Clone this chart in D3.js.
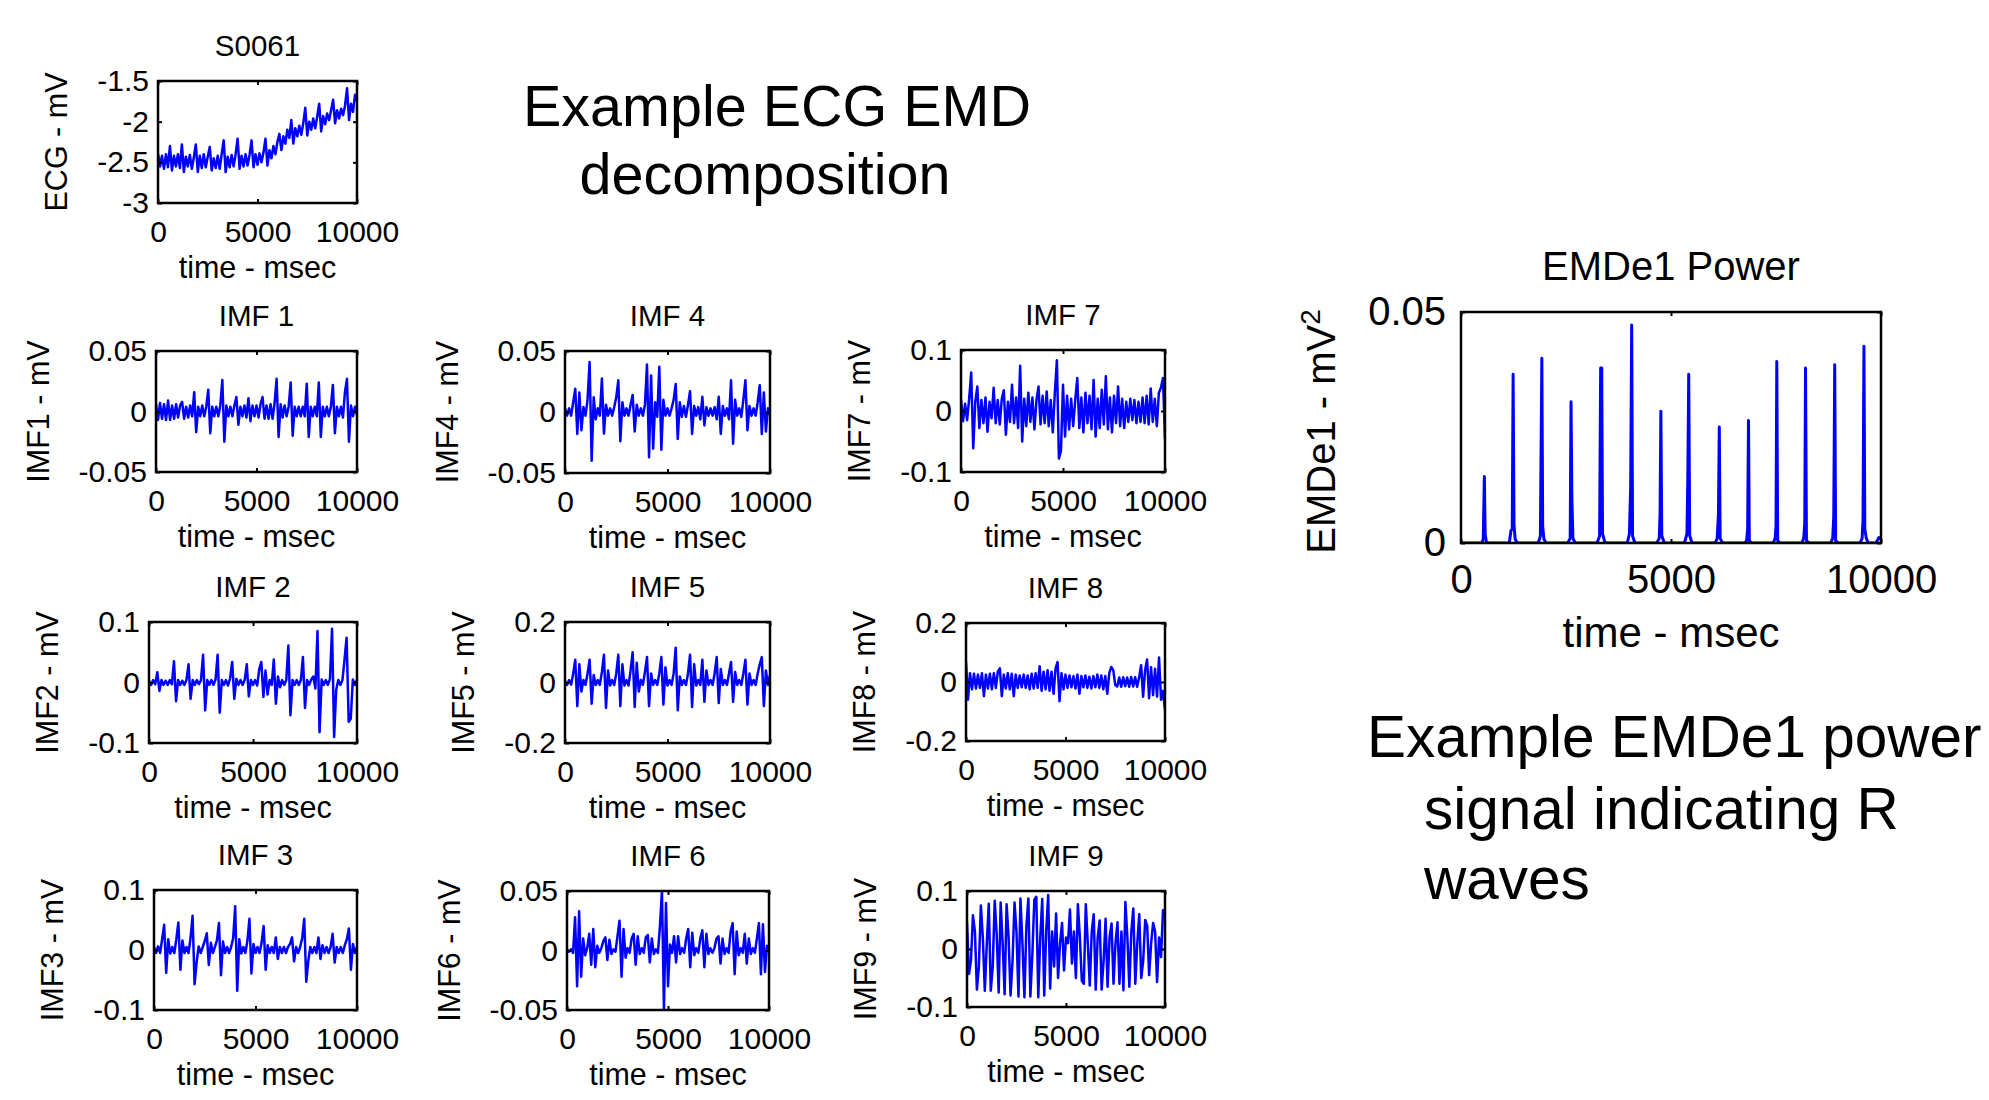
<!DOCTYPE html>
<html>
<head>
<meta charset="utf-8">
<script src="https://cdn.jsdelivr.net/npm/d3@7"></script>
<style>
  body { margin: 0; background: #fff; }
  svg { display: block; font-family: 'Liberation Sans', Arial, Helvetica, sans-serif; }
  text { fill: #000; }
</style>
</head>
<body>
<svg id="chart" width="1989" height="1100"></svg>
<script>
// time axis shared by every panel
const timeTicks = [0, 5000, 10000];
const sampleStep = 100; // ms between samples below

const ecgTicks = [-3, -2.5, -2, -1.5];
const ticks005 = [-0.05, 0, 0.05];
const ticks01 = [-0.1, 0, 0.1];
const ticks02 = [-0.2, 0, 0.2];
const powerTicks = [0, 0.05];

// values, one every 100 ms (101 per signal)
const ecgValues = [
  -2.39, -2.55, -2.42, -2.58, -2.40, -2.56, -2.30, -2.60, -2.42, -2.55,
  -2.40, -2.57, -2.28, -2.62, -2.43, -2.55, -2.41, -2.58, -2.44, -2.28,
  -2.62, -2.42, -2.57, -2.40, -2.56, -2.43, -2.31, -2.60, -2.45, -2.57,
  -2.42, -2.58, -2.40, -2.23, -2.62, -2.43, -2.56, -2.41, -2.55, -2.40,
  -2.21, -2.58, -2.42, -2.55, -2.40, -2.54, -2.41, -2.23, -2.56, -2.40,
  -2.53, -2.39, -2.50, -2.38, -2.21, -2.54, -2.35, -2.45, -2.30, -2.40,
  -2.25, -2.15, -2.35, -2.18, -2.27, -2.10, -2.20, -1.98, -2.27, -2.08,
  -2.18, -2.05, -2.16, -2.02, -1.83, -2.17, -2.00, -2.10, -1.96, -2.08,
  -1.94, -1.78, -2.12, -1.93, -2.03, -1.90, -1.98, -1.86, -1.73, -2.02,
  -1.86, -1.96, -1.84, -1.92, -1.80, -1.59, -1.98, -1.78, -1.88, -1.67,
  -1.75
];

const imf1Values = [
  0.006, -0.007, 0.007, -0.006, 0.006, -0.007, 0.009, -0.007, 0.005, -0.006,
  0.006, -0.005, 0.005, 0.008, -0.006, 0.004, -0.005, 0.005, -0.004, 0.016,
  -0.017, 0.004, -0.004, 0.005, -0.004, 0.004, 0.018, -0.018, 0.004, -0.004,
  0.004, -0.004, 0.005, 0.026, -0.025, 0.005, -0.004, 0.004, -0.004, 0.005,
  0.012, -0.011, 0.004, -0.004, 0.005, -0.005, 0.011, -0.008, 0.005, -0.004,
  0.005, -0.005, 0.006, 0.012, -0.006, 0.005, -0.006, 0.006, -0.006, 0.007,
  0.027, -0.021, 0.006, -0.005, 0.005, -0.004, 0.004, 0.024, -0.020, 0.004,
  -0.004, 0.004, -0.004, 0.004, -0.004, 0.023, -0.021, 0.004, -0.004, 0.004,
  -0.004, 0.024, -0.021, 0.004, -0.004, 0.004, -0.004, 0.004, 0.022, -0.018,
  0.004, -0.004, 0.004, -0.005, 0.016, 0.027, -0.025, 0.005, -0.004, 0.004,
  -0.003
];

const imf2Values = [
  0.003, -0.004, 0.004, -0.003, 0.017, -0.014, 0.004, -0.004, 0.003, -0.004,
  0.004, -0.003, 0.035, -0.031, 0.004, -0.004, 0.003, -0.004, 0.004, 0.030,
  -0.027, 0.004, -0.004, 0.004, -0.003, 0.004, 0.046, -0.046, 0.004, -0.004,
  0.004, -0.004, 0.005, 0.046, -0.050, 0.004, -0.004, 0.004, -0.005, 0.007,
  0.034, -0.027, 0.006, -0.004, 0.004, -0.004, 0.004, 0.030, -0.023, 0.004,
  -0.004, 0.004, -0.005, 0.022, 0.034, -0.024, 0.020, -0.020, 0.004, -0.004,
  0.038, -0.035, 0.010, -0.008, 0.004, -0.004, 0.004, 0.061, -0.054, 0.004,
  -0.004, 0.004, -0.004, 0.004, 0.042, -0.042, 0.004, -0.004, 0.005, 0.010,
  -0.010, 0.085, -0.082, 0.005, -0.004, 0.004, -0.004, 0.006, 0.089, -0.090,
  -0.012, 0.004, -0.004, 0.004, 0.038, 0.074, -0.065, -0.060, 0.005, -0.004,
  0.004
];

const imf3Values = [
  0.005, -0.005, 0.006, -0.005, 0.018, 0.042, -0.038, 0.018, -0.006, 0.005,
  -0.005, 0.018, 0.046, -0.033, 0.016, -0.005, 0.005, -0.005, 0.020, 0.057,
  -0.057, -0.020, 0.006, -0.005, 0.005, 0.015, 0.028, -0.025, 0.012, -0.005,
  0.005, 0.016, 0.045, -0.042, 0.014, -0.005, 0.005, -0.005, 0.005, 0.020,
  0.073, -0.068, 0.018, -0.006, 0.005, -0.005, 0.015, 0.052, -0.039, 0.010,
  -0.005, 0.005, -0.005, 0.012, 0.040, -0.033, 0.008, -0.005, 0.005, -0.005,
  0.021, -0.015, 0.005, -0.005, 0.005, -0.005, 0.005, 0.010, 0.021, -0.019,
  0.005, -0.005, 0.005, 0.020, 0.052, -0.053, -0.018, 0.005, -0.005, 0.005,
  -0.005, 0.021, -0.015, 0.008, -0.005, 0.005, -0.005, 0.005, 0.027, -0.021,
  0.005, -0.005, 0.005, -0.005, 0.008, 0.018, 0.036, -0.033, 0.010, -0.005,
  0.005
];

const imf4Values = [
  0.003, -0.003, 0.003, -0.003, 0.008, 0.019, -0.018, 0.016, -0.015, 0.004,
  -0.003, 0.010, 0.041, -0.040, 0.012, -0.006, 0.003, -0.003, 0.0275, -0.0177,
  0.006, -0.003, 0.003, -0.003, 0.004, 0.012, 0.026, -0.024, 0.008, -0.003,
  0.003, -0.003, 0.006, 0.014, -0.016, 0.006, -0.003, 0.003, -0.003, 0.006,
  0.039, -0.037, 0.030, -0.030, 0.008, -0.004, 0.037, -0.031, 0.010, -0.003,
  0.003, -0.003, 0.003, 0.010, 0.023, -0.022, 0.008, -0.004, 0.005, -0.004,
  0.006, 0.017, -0.018, 0.005, -0.003, 0.004, -0.006, 0.0125, -0.011, 0.004,
  -0.003, 0.003, -0.003, 0.004, -0.006, 0.0125, -0.018, 0.005, -0.003, 0.003,
  -0.006, 0.026, -0.026, 0.010, -0.003, 0.003, -0.004, 0.010, 0.026, -0.015,
  0.005, -0.003, 0.003, -0.003, 0.008, 0.022, -0.018, 0.016, -0.016, 0.003,
  -0.002
];

const imf5Values = [
  0.006, -0.008, 0.008, -0.007, 0.030, 0.075, -0.078, 0.060, -0.030, 0.008,
  -0.008, 0.030, 0.075, -0.070, 0.025, -0.008, 0.008, -0.008, 0.035, 0.092,
  -0.084, 0.040, -0.010, 0.008, -0.008, 0.030, 0.092, -0.078, 0.060, -0.010,
  0.008, -0.010, 0.040, 0.100, -0.081, 0.065, -0.030, 0.008, -0.008, 0.035,
  0.084, -0.078, 0.030, -0.008, 0.008, -0.008, 0.030, 0.084, -0.073, 0.050,
  -0.010, 0.008, -0.008, 0.030, 0.115, -0.092, 0.020, -0.008, 0.008, -0.008,
  0.030, 0.092, -0.081, 0.060, -0.010, 0.008, -0.008, 0.075, -0.064, 0.040,
  -0.008, 0.008, -0.008, 0.030, 0.084, -0.068, 0.045, -0.008, 0.008, -0.008,
  0.030, 0.068, -0.064, 0.035, -0.008, 0.008, -0.008, 0.030, 0.075, -0.073,
  0.030, -0.008, 0.008, -0.008, 0.030, 0.060, 0.084, -0.078, 0.040, -0.008,
  0.024
];

const imf6Values = [
  0.001, -0.001, 0.001, -0.002, 0.028, -0.030, 0.033, -0.022, 0.010, -0.004,
  0.002, 0.014, -0.012, 0.018, -0.014, 0.004, -0.002, 0.002, 0.008, 0.011,
  -0.008, 0.009, -0.003, 0.001, -0.001, 0.012, 0.025, -0.022, 0.018, -0.006,
  0.002, -0.002, 0.010, 0.014, -0.012, 0.012, -0.003, 0.002, -0.002, 0.011,
  0.013, -0.010, 0.010, -0.003, 0.001, -0.002, 0.020, 0.050, -0.049, 0.040,
  -0.030, 0.005, -0.002, 0.012, -0.010, 0.012, -0.003, 0.002, -0.002, 0.010,
  0.018, -0.014, 0.015, -0.004, 0.002, -0.002, 0.010, 0.017, -0.014, 0.014,
  -0.003, 0.002, -0.002, 0.002, 0.010, 0.012, -0.011, 0.010, -0.003, 0.002,
  -0.002, 0.016, 0.023, -0.020, 0.016, -0.004, 0.002, -0.002, 0.014, -0.011,
  0.010, -0.003, 0.002, -0.002, 0.010, 0.023, -0.020, 0.022, -0.018, 0.004,
  0.001
];

const imf7Values = [
  0.019, -0.017, 0.012, -0.015, 0.020, 0.063, -0.061, 0.015, 0.040, -0.028,
  0.018, -0.020, 0.022, -0.034, 0.015, -0.012, 0.038, -0.020, 0.018, -0.022,
  0.020, 0.034, -0.039, 0.015, -0.018, 0.043, -0.020, 0.022, -0.028, 0.074,
  -0.050, 0.020, -0.025, 0.030, -0.018, 0.022, -0.030, 0.018, 0.040, -0.022,
  0.025, -0.020, 0.032, -0.025, 0.018, -0.035, 0.030, 0.083, -0.078, -0.065,
  0.043, -0.042, 0.025, -0.030, 0.020, -0.025, 0.018, 0.054, -0.028, 0.022,
  -0.035, 0.030, -0.020, 0.025, -0.030, 0.051, -0.042, 0.020, -0.028, 0.035,
  -0.022, 0.057, -0.030, 0.022, -0.035, 0.025, -0.020, 0.040, -0.025, 0.020,
  -0.028, 0.015, -0.018, 0.020, -0.015, 0.018, -0.020, 0.015, -0.018, 0.022,
  -0.020, 0.025, -0.022, 0.037, -0.018, 0.020, -0.025, 0.030, 0.038, 0.054,
  -0.046
];

const imf8Values = [
  0.068, -0.060, 0.030, -0.025, 0.028, -0.022, 0.025, -0.020, 0.030, -0.048,
  0.025, -0.022, 0.028, -0.025, 0.030, -0.020, 0.035, 0.046, -0.048, 0.025,
  -0.022, 0.030, -0.025, 0.028, -0.048, 0.025, -0.020, 0.022, -0.018, 0.025,
  -0.020, 0.022, -0.025, 0.028, -0.022, 0.030, -0.020, 0.053, -0.030, 0.035,
  -0.025, 0.040, -0.030, 0.035, -0.040, 0.045, 0.068, -0.065, 0.030, -0.025,
  0.025, -0.020, 0.022, -0.018, 0.020, -0.022, 0.025, -0.040, 0.020, -0.018,
  0.022, -0.020, 0.018, -0.022, 0.020, -0.018, 0.025, -0.020, 0.022, -0.025,
  0.020, -0.040, 0.030, 0.051, 0.040, -0.010, -0.015, 0.015, -0.016, 0.016,
  -0.014, 0.015, -0.016, 0.017, -0.015, 0.016, -0.016, 0.015, 0.057, -0.050,
  0.040, 0.076, -0.055, 0.050, -0.045, 0.045, -0.050, 0.083, -0.060, -0.030,
  -0.095
];

const imf9Values = [
  0.045, -0.043, -0.020, 0.058, 0.030, -0.070, -0.030, 0.075, 0.020, -0.072,
  0.010, 0.078, -0.072, -0.030, 0.083, 0.025, -0.075, 0.080, 0.010, -0.078,
  0.077, 0.020, -0.080, -0.020, 0.080, 0.030, -0.082, 0.087, 0.010, -0.083,
  0.040, 0.087, -0.082, -0.010, 0.085, 0.090, -0.083, 0.020, 0.086, -0.080,
  0.030, 0.093, -0.068, 0.030, -0.030, 0.061, -0.050, 0.010, 0.045, -0.037,
  0.020, 0.010, 0.068, -0.025, 0.030, -0.050, 0.077, 0.020, -0.055, -0.060,
  0.077, 0.010, -0.063, 0.030, 0.060, -0.070, 0.020, 0.049, -0.070, -0.020,
  0.052, -0.065, 0.020, 0.044, -0.060, 0.010, 0.046, -0.060, 0.030, -0.071,
  0.081, 0.020, -0.065, 0.030, 0.070, -0.060, 0.010, 0.060, -0.050, -0.020,
  0.050, 0.040, -0.045, 0.010, 0.045, 0.030, -0.057, 0.020, -0.014, 0.067,
  0.067
];

// EMDe1 power: [time ms, mV^2] around each R-wave peak
const powerPoints = [
  [0, 0], [500, 0], [530, 0.001], [556, 0.0144], [575, 0.002], [600, 0.0004], [640, 0],
  [1150, 0], [1190, 0.0027], [1220, 0.003], [1241, 0.0365], [1262, 0.004], [1290, 0.0008], [1340, 0],
  [1840, 0], [1890, 0.0015], [1925, 0.040], [1945, 0.0036], [1975, 0.0008], [2030, 0],
  [2540, 0], [2600, 0.001], [2620, 0.0306], [2640, 0.0096], [2665, 0.001], [2720, 0],
  [3240, 0], [3300, 0.0015], [3325, 0.0379], [3350, 0.0379], [3370, 0.002], [3430, 0],
  [3960, 0], [4010, 0.002], [4040, 0.0124], [4064, 0.0472], [4085, 0.0015], [4140, 0],
  [4660, 0], [4720, 0.001], [4740, 0.0064], [4759, 0.0285], [4780, 0.0016], [4840, 0],
  [5320, 0], [5380, 0.002], [5400, 0.0139], [5422, 0.0365], [5445, 0.0016], [5500, 0],
  [6050, 0], [6100, 0.001], [6130, 0.0064], [6150, 0.0251], [6170, 0.001], [6230, 0],
  [6760, 0], [6800, 0.0005], [6825, 0.003], [6845, 0.0265], [6865, 0.0005], [6920, 0],
  [7430, 0], [7480, 0.001], [7500, 0.0036], [7519, 0.0393], [7540, 0.0005], [7600, 0],
  [8110, 0], [8160, 0.001], [8185, 0.0043], [8203, 0.0379], [8225, 0.0005], [8290, 0],
  [8800, 0], [8850, 0.001], [8875, 0.0056], [8898, 0.0386], [8920, 0.0005], [8980, 0],
  [9500, 0], [9550, 0.001], [9572, 0.005], [9594, 0.0426], [9615, 0.003], [9650, 0.001],
  [9700, 0], [9880, 0], [9950, 0.0012], [10000, 0.0008]
];

// panel layout: box = [left, top, right, bottom]
const panels = [
  { id: 'ecg', title: 'S0061', ylabel: 'ECG - mV', values: ecgValues, yDomain: [-3, -1.5], yTicks: ecgTicks, box: [158, 81, 357, 203] },
  { id: 'imf1', title: 'IMF 1', ylabel: 'IMF1 - mV', values: imf1Values, yDomain: [-0.05, 0.05], yTicks: ticks005, box: [156, 351, 357, 472] },
  { id: 'imf2', title: 'IMF 2', ylabel: 'IMF2 - mV', values: imf2Values, yDomain: [-0.1, 0.1], yTicks: ticks01, box: [149, 622, 357, 743] },
  { id: 'imf3', title: 'IMF 3', ylabel: 'IMF3 - mV', values: imf3Values, yDomain: [-0.1, 0.1], yTicks: ticks01, box: [154, 890, 357, 1010] },
  { id: 'imf4', title: 'IMF 4', ylabel: 'IMF4 - mV', values: imf4Values, yDomain: [-0.05, 0.05], yTicks: ticks005, box: [565, 351, 770, 473] },
  { id: 'imf5', title: 'IMF 5', ylabel: 'IMF5 - mV', values: imf5Values, yDomain: [-0.2, 0.2], yTicks: ticks02, box: [565, 622, 770, 743] },
  { id: 'imf6', title: 'IMF 6', ylabel: 'IMF6 - mV', values: imf6Values, yDomain: [-0.05, 0.05], yTicks: ticks005, box: [567, 891, 769, 1010] },
  { id: 'imf7', title: 'IMF 7', ylabel: 'IMF7 - mV', values: imf7Values, yDomain: [-0.1, 0.1], yTicks: ticks01, box: [961, 350, 1165, 472] },
  { id: 'imf8', title: 'IMF 8', ylabel: 'IMF8 - mV', values: imf8Values, yDomain: [-0.2, 0.2], yTicks: ticks02, box: [966, 623, 1165, 741] },
  { id: 'imf9', title: 'IMF 9', ylabel: 'IMF9 - mV', values: imf9Values, yDomain: [-0.1, 0.1], yTicks: ticks01, box: [967, 891, 1165, 1007] },
];

const svg = d3.select('#chart');
const fontFamily = "'Liberation Sans', Arial, Helvetica, sans-serif";

function drawPanel(p, opts) {
  const [left, top, right, bottom] = p.box;
  const xScale = d3.scaleLinear().domain([0, 10000]).range([left, right]);
  const yScale = d3.scaleLinear().domain(p.yDomain).range([bottom, top]);
  const g = svg.append('g').attr('class', 'panel ' + p.id);

  svg.append('clipPath').attr('id', 'clip-' + p.id)
    .append('rect')
    .attr('x', left).attr('y', top)
    .attr('width', right - left).attr('height', bottom - top);

  const points = p.points || p.values.map((v, i) => [i * sampleStep, v]);
  const line = d3.line().x((d) => xScale(d[0])).y((d) => yScale(d[1]));

  g.append('path')
    .datum(points)
    .attr('clip-path', `url(#clip-${p.id})`)
    .attr('d', line)
    .attr('fill', 'none')
    .attr('stroke', '#0000ff')
    .attr('stroke-width', opts.lineWidth)
    .attr('stroke-linejoin', 'round');

  const fmt = (d) => String(d);

  const xAxis = g.append('g')
    .attr('transform', `translate(0,${bottom})`)
    .call(d3.axisBottom(xScale).tickValues(timeTicks).tickSizeInner(-4).tickSizeOuter(0)
      .tickPadding(opts.xPad).tickFormat(fmt));
  g.append('g')
    .attr('transform', `translate(0,${top})`)
    .call(d3.axisTop(xScale).tickValues(timeTicks).tickSizeInner(-4).tickSizeOuter(0).tickFormat(''));
  const yAxis = g.append('g')
    .attr('transform', `translate(${left},0)`)
    .call(d3.axisLeft(yScale).tickValues(p.yTicks).tickSizeInner(-4).tickSizeOuter(0)
      .tickPadding(opts.yPad).tickFormat(fmt));
  g.append('g')
    .attr('transform', `translate(${right},0)`)
    .call(d3.axisRight(yScale).tickValues(p.yTicks).tickSizeInner(-4).tickSizeOuter(0).tickFormat(''));

  g.selectAll('.domain').remove();
  g.selectAll('.tick line').attr('stroke', '#000').attr('stroke-width', 2);
  [xAxis, yAxis].forEach((a) => a.attr('font-family', fontFamily).attr('font-size', opts.tickFont));
  g.selectAll('.tick text').attr('fill', '#000');

  g.append('rect')
    .attr('x', left).attr('y', top)
    .attr('width', right - left).attr('height', bottom - top)
    .attr('fill', 'none')
    .attr('stroke', '#000')
    .attr('stroke-width', 2.5);

  const cx = (left + right) / 2;
  g.append('text')
    .attr('x', cx).attr('y', top - opts.titleGap)
    .attr('text-anchor', 'middle')
    .style('font-size', opts.titleFont + 'px')
    .text(p.title);

  g.append('text')
    .attr('x', cx).attr('y', bottom + opts.xlabelGap)
    .attr('text-anchor', 'middle')
    .style('font-size', opts.labelFont + 'px')
    .text('time - msec');

  // y label sits left of the widest tick label
  const tickLeft = left + yAxis.node().getBBox().x;
  const lx = tickLeft - opts.ylabelGap + opts.ylabelFont * 0.36;
  const ly = (top + bottom) / 2 + (opts.ylabelShift || 0);
  const yl = g.append('text')
    .attr('transform', `translate(${lx},${ly}) rotate(-90)`)
    .attr('text-anchor', 'middle')
    .style('font-size', opts.ylabelFont + 'px')
    .text(p.ylabel);
  if (opts.ylabelSup) {
    yl.append('tspan')
      .attr('baseline-shift', 'super')
      .style('font-size', '70%')
      .text(opts.ylabelSup);
  }
}

const smallOpts = {
  lineWidth: 2.5, xPad: 18, yPad: 9, tickFont: 30, titleFont: 29.5,
  labelFont: 30.5, ylabelFont: 30.5, titleGap: 25, xlabelGap: 75, ylabelGap: 41,
};

panels.forEach((p) => drawPanel(p, smallOpts));

drawPanel(
  { id: 'power', title: 'EMDe1 Power', ylabel: 'EMDe1 - mV', points: powerPoints,
    yDomain: [0, 0.05], yTicks: powerTicks, box: [1461, 312, 1881, 543] },
  { lineWidth: 3, xPad: 22, yPad: 15, tickFont: 40, titleFont: 40,
    labelFont: 42, ylabelFont: 40, titleGap: 32, xlabelGap: 104, ylabelGap: 48,
    ylabelShift: 4, ylabelSup: '2' }
);

// slide captions
const caption = svg.append('g').attr('class', 'captions');
const leftLines = [
  { text: 'Example ECG EMD', x: 777, y: 126 },
  { text: 'decomposition', x: 765, y: 194 },
];
caption.selectAll('text.left')
  .data(leftLines)
  .join('text')
  .attr('class', 'left')
  .attr('x', (d) => d.x)
  .attr('y', (d) => d.y)
  .attr('text-anchor', 'middle')
  .style('font-size', '57.5px')
  .text((d) => d.text);

const rightLines = [
  { text: 'Example EMDe1 power', x: 1367, y: 757 },
  { text: 'signal indicating R', x: 1424, y: 829 },
  { text: 'waves', x: 1424, y: 899 },
];
caption.selectAll('text.right')
  .data(rightLines)
  .join('text')
  .attr('class', 'right')
  .attr('x', (d) => d.x)
  .attr('y', (d) => d.y)
  .style('font-size', '58.5px')
  .text((d) => d.text);
</script>
</body>
</html>
